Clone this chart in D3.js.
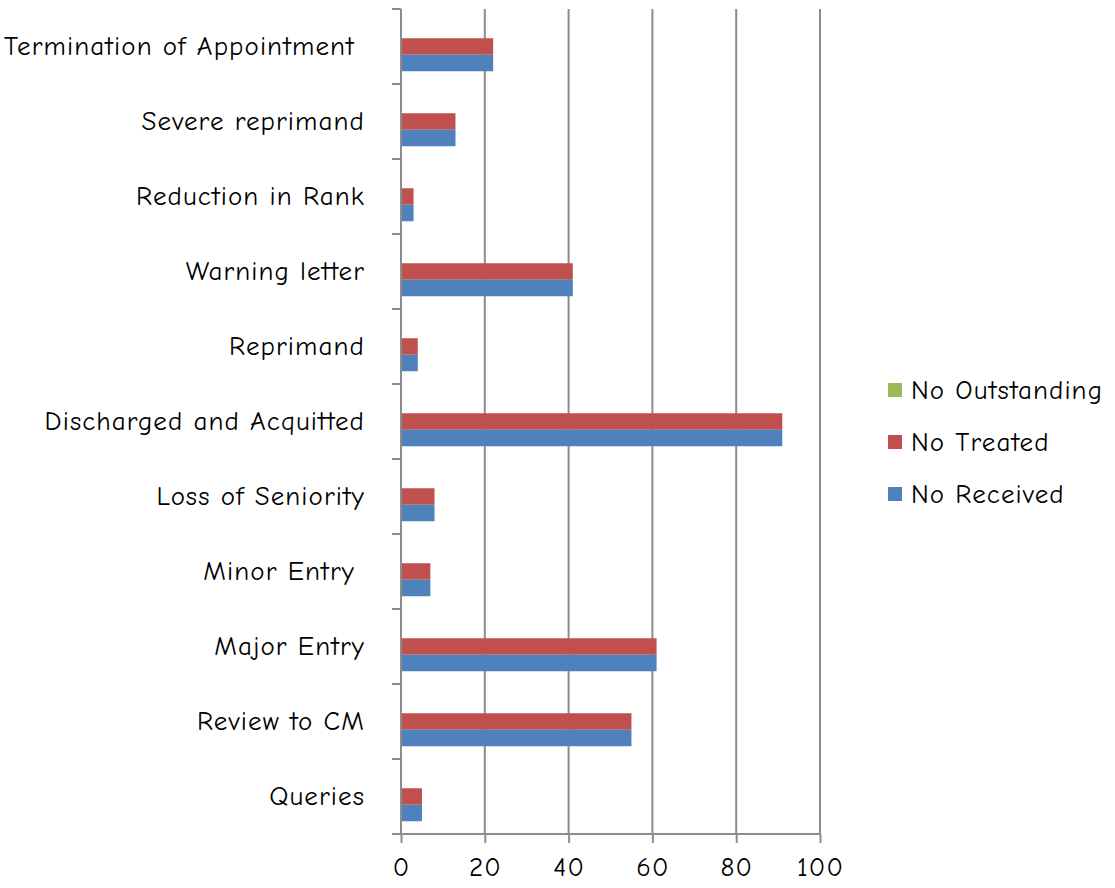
<!DOCTYPE html>
<html><head><meta charset="utf-8">
<script src="https://cdn.jsdelivr.net/npm/d3@7"></script>
<style>body{margin:0;background:#fff;} svg{display:block;}</style>
</head><body>
<svg id="c" width="1115" height="888"></svg>
<script>
const categories = ["Termination of Appointment ", "Severe reprimand", "Reduction in Rank", "Warning letter", "Reprimand", "Discharged and Acquitted", "Loss of Seniority", "Minor Entry ", "Major Entry", "Review to CM", "Queries"];
const received = [22, 13, 3, 41, 4, 91, 8, 7, 61, 55, 5];
const treated = [22, 13, 3, 41, 4, 91, 8, 7, 61, 55, 5];
const outstanding = [0, 0, 0, 0, 0, 0, 0, 0, 0, 0, 0];
const seriesNames = ["No Outstanding", "No Treated", "No Received"];
const seriesColors = ["#9BBB59", "#C0504D", "#4F81BD"];
const xTicks = [0, 20, 40, 60, 80, 100];

const font = "'Comic Sans MS', 'Comic Neue', 'Open Sans', sans-serif";
const fs = 27, ls = 1.1;
const svg = d3.select("#c");
const pLeft = 401, pRight = 820, pTop = 9, pBottom = 834;

const x = d3.scaleLinear().domain([0, 100]).range([pLeft, pRight]);
const y = d3.scaleBand().domain(categories).range([pTop, pBottom]).paddingInner(0.34).paddingOuter(0.17);
const inner = d3.scaleBand().domain(seriesNames).range([0, y.bandwidth()]);

// gridlines
svg.append("g").selectAll("line").data(xTicks.slice(1)).join("line")
  .attr("x1", d => x(d)).attr("x2", d => x(d)).attr("y1", pTop).attr("y2", pBottom)
  .attr("stroke", "#8c8c8c").attr("stroke-width", 2);

const seriesData = [outstanding, treated, received];
seriesNames.forEach((name, si) => {
  svg.append("g").selectAll("rect").data(categories).join("rect")
    .attr("x", x(0))
    .attr("y", d => y(d) + inner(name))
    .attr("width", (d, i) => x(seriesData[si][i]) - x(0))
    .attr("height", inner.bandwidth())
    .attr("fill", seriesColors[si]);
});

// x axis
const xAxis = d3.axisBottom(x).tickValues(xTicks).tickSize(9).tickPadding(14).tickFormat(d3.format("d"));
const gx = svg.append("g").attr("transform", `translate(0,${pBottom})`).call(xAxis);
gx.select(".domain").attr("stroke", "#8c8c8c").attr("stroke-width", 2).attr("d", `M${pLeft-9},0H${pRight}`);
gx.selectAll(".tick line").attr("stroke", "#8c8c8c").attr("stroke-width", 2);
gx.selectAll("text").attr("font-family", font).attr("font-size", fs).attr("letter-spacing", ls).attr("fill", "#000");

// y axis
const yAxis = d3.axisLeft(y).tickSize(0).tickPadding(36);
const gy = svg.append("g").attr("transform", `translate(${pLeft},0)`).call(yAxis);
gy.select(".domain").attr("stroke", "#8c8c8c").attr("stroke-width", 2).attr("d", `M0,${pTop}V${pBottom}`);
gy.selectAll("text").attr("font-family", font).attr("font-size", fs).attr("letter-spacing", ls).attr("fill", "#000").style("white-space", "pre");
// category boundary ticks
const bounds = d3.range(categories.length + 1).map(i => pTop + i * (pBottom - pTop) / categories.length);
svg.append("g").selectAll("line").data(bounds).join("line")
  .attr("x1", pLeft - 9).attr("x2", pLeft).attr("y1", d => d).attr("y2", d => d)
  .attr("stroke", "#8c8c8c").attr("stroke-width", 2);

// legend
const lg = svg.append("g").attr("transform", "translate(888,390)");
seriesNames.forEach((n, i) => {
  const g = lg.append("g").attr("transform", `translate(0,${i * 52})`);
  g.append("rect").attr("x", 0).attr("y", -7).attr("width", 14).attr("height", 14).attr("fill", seriesColors[i]);
  g.append("text").attr("x", 23).attr("y", 0).attr("dy", "0.35em").attr("font-family", font).attr("font-size", fs).attr("letter-spacing", ls).text(n);
});
</script>
</body></html>
